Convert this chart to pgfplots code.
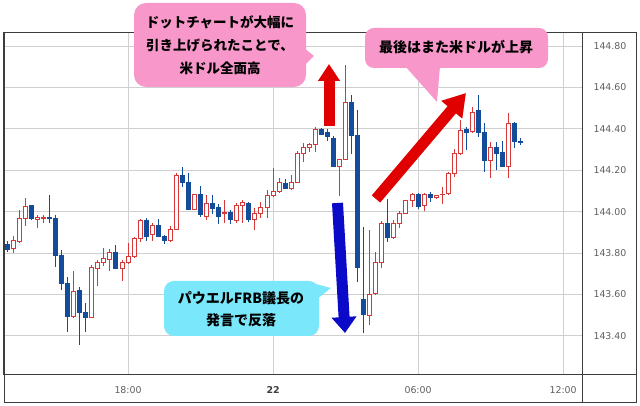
\documentclass[border=0pt]{standalone}
\usepackage{pgfplots}
\pgfplotsset{compat=1.18}
\usepackage{pgfplotstable}
\usepackage{fontspec}
\setmainfont{DejaVu Sans}
\newfontfamily\jp{Noto Sans CJK JP}
\usetikzlibrary{arrows.meta}
\definecolor{bull}{RGB}{214,55,55}
\definecolor{bear}{RGB}{20,76,156}
\definecolor{gridc}{RGB}{208,208,208}
\definecolor{framec}{RGB}{60,60,60}
\definecolor{pinkc}{RGB}{248,152,202}
\definecolor{cyanc}{RGB}{122,232,250}
\definecolor{tickc}{RGB}{95,95,95}
\definecolor{arrred}{RGB}{224,0,0}
\definecolor{arrblue}{RGB}{10,10,200}

\pgfplotstableread{
i o h l c
1 143.820 143.883 143.801 143.859
2 143.854 144.008 143.849 143.965
3 143.965 144.066 143.931 144.023
5 143.960 143.984 143.921 143.970
6 143.965 143.984 143.945 143.974
11 143.492 143.714 143.487 143.612
14 143.487 143.743 143.485 143.728
15 143.723 143.767 143.641 143.752
16 143.752 143.825 143.738 143.772
17 143.767 143.820 143.714 143.801
19 143.723 143.767 143.665 143.752
20 143.752 143.849 143.747 143.781
21 143.781 143.878 143.776 143.868
22 143.868 143.965 143.854 143.955
24 143.892 143.945 143.859 143.931
27 143.859 143.931 143.854 143.916
28 143.916 144.187 143.914 144.177
31 144.008 144.085 144.006 144.081
33 143.979 144.081 143.960 144.037
36 143.989 144.056 143.945 143.994
38 143.955 144.042 143.945 144.032
39 144.032 144.056 143.945 144.042
41 143.960 144.018 143.912 143.989
42 143.989 144.047 143.970 144.018
43 144.018 144.105 143.970 144.076
44 144.076 144.211 144.071 144.095
45 144.095 144.163 144.090 144.139
47 144.110 144.177 144.105 144.143
48 144.143 144.293 144.141 144.283
49 144.283 144.332 144.240 144.308
50 144.308 144.332 144.288 144.322
51 144.322 144.409 144.288 144.399
55 144.216 144.256 144.076 144.254
56 144.254 144.708 144.252 144.525
60 143.496 143.912 143.453 143.598
61 143.603 143.805 143.598 143.752
62 143.752 143.955 143.728 143.941
64 143.873 143.960 143.868 143.941
65 143.941 144.003 143.921 143.989
66 143.989 144.056 143.987 144.052
67 144.052 144.090 144.023 144.085
69 144.028 144.090 144.003 144.085
71 144.066 144.078 144.061 144.076
72 144.081 144.119 144.037 144.085
73 144.090 144.192 144.081 144.182
74 144.182 144.303 144.168 144.279
75 144.279 144.443 144.274 144.390
77 144.385 144.506 144.380 144.481
80 144.245 144.337 144.163 144.308
83 144.216 144.477 144.163 144.428
}\bulltab

\pgfplotstableread{
i o h l c
0 143.839 143.859 143.805 143.815
4 144.028 144.032 143.960 143.965
7 143.974 144.081 143.945 143.965
8 143.965 143.984 143.733 143.786
9 143.786 143.815 143.622 143.651
10 143.651 143.685 143.419 143.492
12 143.617 143.636 143.356 143.511
13 143.511 143.559 143.419 143.487
18 143.801 143.839 143.721 143.723
23 143.955 143.970 143.859 143.878
25 143.931 143.965 143.876 143.878
26 143.878 143.887 143.844 143.859
29 144.177 144.216 144.119 144.139
30 144.143 144.187 144.006 144.008
32 144.081 144.124 143.974 143.984
34 144.037 144.081 143.989 144.013
35 144.018 144.037 143.941 143.979
37 143.994 144.008 143.941 143.960
40 144.037 144.047 143.950 143.960
46 144.134 144.158 144.108 144.110
52 144.399 144.404 144.370 144.375
53 144.380 144.399 144.341 144.361
54 144.351 144.366 144.214 144.216
57 144.525 144.564 144.279 144.366
58 144.370 144.491 143.661 143.728
59 143.574 143.926 143.414 143.501
63 143.941 144.061 143.854 143.873
68 144.081 144.090 144.013 144.023
70 144.085 144.095 144.047 144.066
76 144.399 144.409 144.298 144.380
78 144.491 144.564 144.361 144.380
79 144.380 144.428 144.192 144.245
81 144.308 144.337 144.201 144.283
82 144.288 144.341 144.214 144.216
84 144.428 144.433 144.308 144.337
85 144.337 144.356 144.322 144.336
}\beartab

\pgfplotsset{
  ebar/.style={draw=none, mark=none, forget plot,
    error bars/.cd, y dir=plus, y explicit, error mark=none,
    error bar style={#1}},
}

\begin{document}
\begin{tikzpicture}[x=1pt,y=1pt]
\useasboundingbox (0,0) rectangle (640,406);
\begin{axis}[
  at={(4pt,373pt)}, anchor=north west,
  scale only axis, width=578pt, height=342pt,
  xmin=-0.53, xmax=95.13, ymin=143.211, ymax=144.863,
  xtick={20,44,68,92},
  xticklabels={18:00,{\textbf{\color{framec}22}},06:00,12:00},
  ytick={143.4,143.6,143.8,144.0,144.2,144.4,144.6,144.8},
  yticklabels={143.40,143.60,143.80,144.00,144.20,144.40,144.60,144.80},
  yticklabel pos=right,
  yticklabel style={anchor=west, xshift=8pt, font=\fontsize{9.4}{10}\selectfont, text=tickc},
  xticklabel style={yshift=-7.5pt, font=\fontsize{9.4}{10}\selectfont, text=tickc},
  major tick length=0pt,
  grid=major,
  grid style={gridc, line width=0.8pt},
  axis line style={framec, line width=1pt},
  clip=true,
]
% bull candles
\addplot[ebar={bull, line width=1pt}] table[x=i, y=l, y error plus expr=\thisrow{h}-\thisrow{l}] {\bulltab};
\addplot[ebar={white, line width=4pt}] table[x=i, y=o, y error plus expr=\thisrow{c}-\thisrow{o}] {\bulltab};
\addplot[ebar={bull, line width=1pt}] table[x expr=\thisrow{i}-0.331, y=o, y error plus expr=\thisrow{c}-\thisrow{o}] {\bulltab};
\addplot[ebar={bull, line width=1pt}] table[x expr=\thisrow{i}+0.331, y=o, y error plus expr=\thisrow{c}-\thisrow{o}] {\bulltab};
\addplot[only marks, forget plot, mark=-, mark size=2.5pt, mark options={draw=bull, line width=1pt}] table[x=i, y=o] {\bulltab};
\addplot[only marks, forget plot, mark=-, mark size=2.5pt, mark options={draw=bull, line width=1pt}] table[x=i, y=c] {\bulltab};
% bear candles
\addplot[ebar={bear, line width=1pt}] table[x=i, y=l, y error plus expr=\thisrow{h}-\thisrow{l}] {\beartab};
\addplot[ebar={bear, line width=5pt}] table[x=i, y=c, y error plus expr=\thisrow{o}-\thisrow{c}] {\beartab};
\addplot[only marks, forget plot, mark=-, mark size=2.5pt, mark options={draw=bear, line width=1pt}] table[x=i, y=o] {\beartab};
\addplot[only marks, forget plot, mark=-, mark size=2.5pt, mark options={draw=bear, line width=1pt}] table[x=i, y=c] {\beartab};
\end{axis}
% outer frame and panels
\draw[framec, line width=1pt] (4,3) rectangle (636,373);
\draw[framec, line width=1pt] (4,31) -- (636,31);
\draw[framec, line width=1pt] (582,3) -- (582,373);
% arrows
\draw[arrred, line width=11pt, -{Triangle[width=21pt,length=17pt]}] (329,280) -- (329,342);
\draw[arrblue, line width=11pt, -{Triangle[width=24pt,length=16pt]}] (337.5,203) -- (345,73);
\draw[arrred, line width=11pt, -{Triangle[width=26pt,length=22pt]}] (376,207) -- (466,313);
% callout 1
\fill[pinkc] (304,358) -- (314,350) -- (304,340) -- cycle;
\fill[pinkc, rounded corners=12pt] (134,319) rectangle (306,403);
\node[align=center, font=\jp\bfseries\fontsize{13.5}{23}\selectfont, inner sep=0pt] at (220,361) {ドットチャートが大幅に\\引き上げられたことで、\\米ドル全面高};
% callout 2
\fill[pinkc] (405,340) -- (440,340) -- (437,304) -- cycle;
\fill[pinkc, rounded corners=9pt] (365,338) rectangle (548,378);
\node[font=\jp\bfseries\fontsize{14}{16}\selectfont, inner sep=0pt] at (456,359) {最後はまた米ドルが上昇};
% callout 3
\fill[cyanc] (316,122) -- (331,118) -- (316,106) -- cycle;
\fill[cyanc, rounded corners=10pt] (164,70) rectangle (319,125);
\node[align=center, font=\jp\bfseries\fontsize{14}{22}\selectfont, inner sep=0pt] at (241,97) {パウエルFRB議長の\\発言で反落};
\end{tikzpicture}
\end{document}
